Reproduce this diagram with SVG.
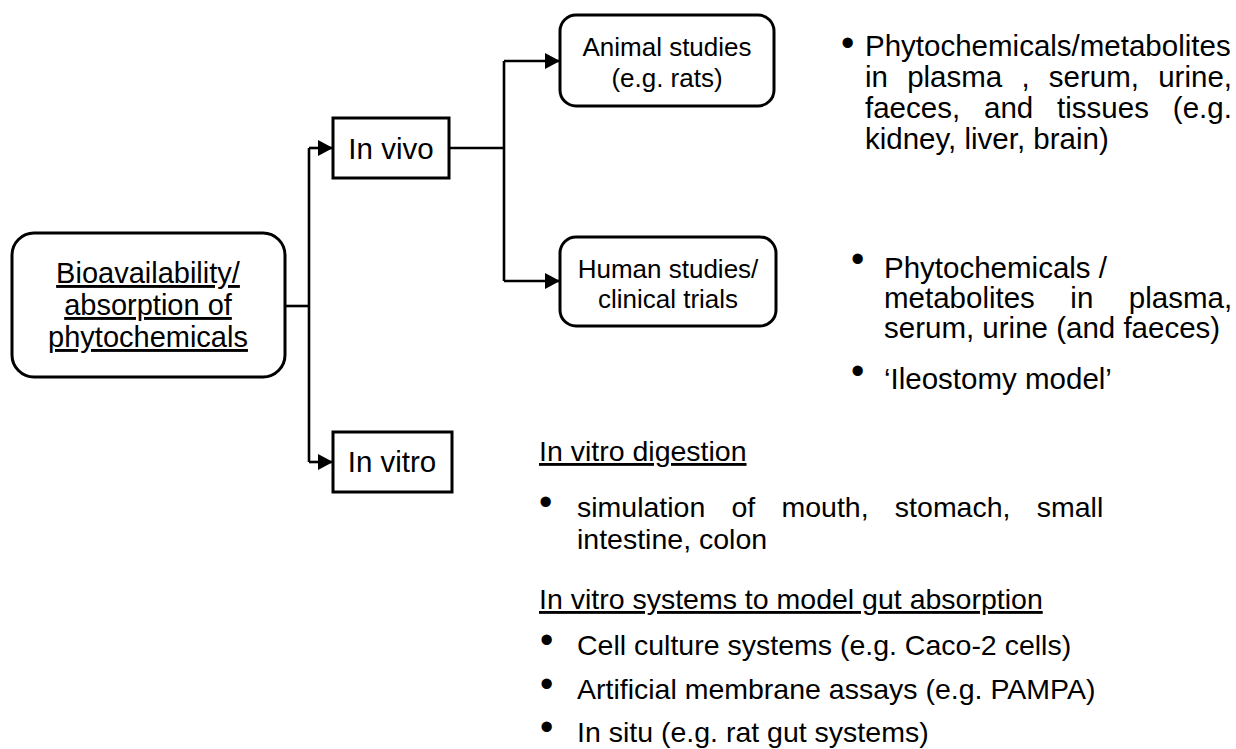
<svg xmlns="http://www.w3.org/2000/svg" width="1236" height="749" viewBox="0 0 1236 749">
<style>
.box{fill:#fff;stroke:#000;stroke-width:3}
.t{font-family:"Liberation Sans",Arial,sans-serif;fill:#000}
.c{text-anchor:middle}
.u{text-decoration:underline}
.b{font-size:38px}
.ln{fill:none;stroke:#000;stroke-width:2.6}
</style>
<defs>
<marker id="ah" markerUnits="userSpaceOnUse" markerWidth="16" markerHeight="16" refX="15" refY="8" orient="auto">
<path d="M0,0 L15,8 L0,16 Z" fill="#000"/>
</marker>
</defs>
<rect width="1236" height="749" fill="#fff"/>
<g id="connectors">
<path class="ln" d="M285,306 H309"/>
<path class="ln" d="M309,148 V462"/>
<path class="ln" d="M309,148 H333" marker-end="url(#ah)"/>
<path class="ln" d="M309,462 H333" marker-end="url(#ah)"/>
<path class="ln" d="M449,148 H504"/>
<path class="ln" d="M504,61 V281"/>
<path class="ln" d="M504,61 H560" marker-end="url(#ah)"/>
<path class="ln" d="M504,281 H560" marker-end="url(#ah)"/>
</g>
<g id="bioavailability">
<rect class="box" x="12" y="233" width="273" height="144" rx="22"/>
<text class="t c u" font-size="29" x="148" y="283">Bioavailability/</text>
<text class="t c u" font-size="29" x="148" y="315">absorption of</text>
<text class="t c u" font-size="29" x="148" y="347">phytochemicals</text>
</g>
<g id="invivo">
<rect class="box" x="333" y="118" width="116" height="60"/>
<text class="t c" font-size="29.5" x="391" y="159">In vivo</text>
</g>
<g id="invitro">
<rect class="box" x="333" y="432" width="119" height="60"/>
<text class="t c" font-size="29.5" x="392" y="472">In vitro</text>
</g>
<g id="animal">
<rect class="box" x="560" y="15" width="214" height="91" rx="16"/>
<text class="t c" font-size="26" x="667" y="56">Animal studies</text>
<text class="t c" font-size="26" x="667" y="87">(e.g. rats)</text>
</g>
<g id="human">
<rect class="box" x="560" y="237" width="216" height="89" rx="16"/>
<text class="t c" font-size="26" x="668" y="278">Human studies/</text>
<text class="t c" font-size="26" x="668" y="308">clinical trials</text>
</g>
<g id="animal-notes" class="t" font-size="29.5">
<text class="b" x="841" y="56">•</text>
<text x="865" y="56">Phytochemicals/metabolites</text>
<text x="865" y="87" word-spacing="11">in plasma , serum, urine,</text>
<text x="865" y="118" word-spacing="15.7">faeces, and tissues (e.g.</text>
<text x="865" y="149">kidney, liver, brain)</text>
</g>
<g id="human-notes" class="t" font-size="29.5">
<text class="b" x="851" y="272">•</text>
<text x="884" y="278">Phytochemicals /</text>
<text x="884" y="308" word-spacing="27.3">metabolites in plasma,</text>
<text x="884" y="338">serum, urine (and faeces)</text>
<text class="b" x="851" y="384">•</text>
<text x="884" y="389">‘Ileostomy model’</text>
</g>
<g id="invitro-notes" class="t" font-size="28.5">
<text class="u" x="539" y="461">In vitro digestion</text>
<text class="b" x="539" y="515">•</text>
<text x="577" y="517" word-spacing="18.3">simulation of mouth, stomach, small</text>
<text x="577" y="549">intestine, colon</text>
<text class="u" x="539" y="609">In vitro systems to model gut absorption</text>
<text class="b" x="540" y="653">•</text>
<text x="577" y="655">Cell culture systems (e.g. Caco-2 cells)</text>
<text class="b" x="540" y="697">•</text>
<text x="577" y="699">Artificial membrane assays (e.g. PAMPA)</text>
<text class="b" x="540" y="740">•</text>
<text x="577" y="742">In situ (e.g. rat gut systems)</text>
</g>
</svg>
